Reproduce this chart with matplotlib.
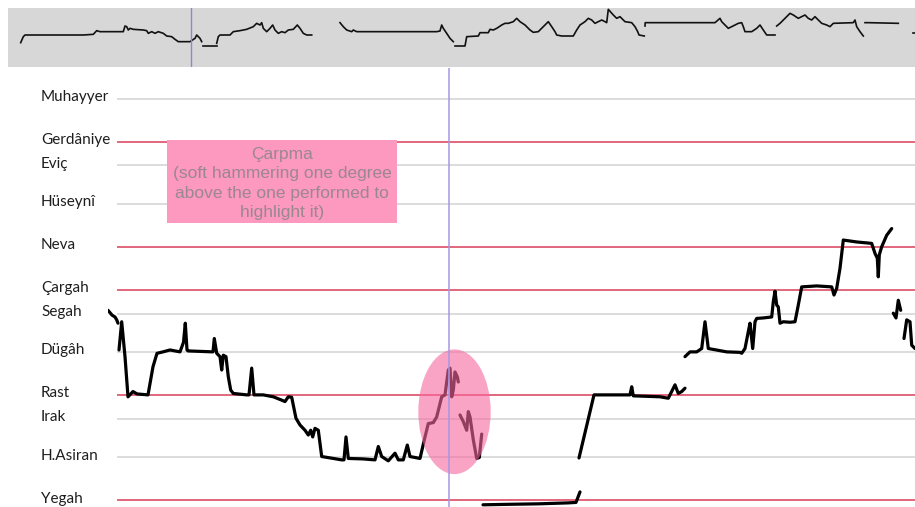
import matplotlib
matplotlib.use("Agg")
import matplotlib.pyplot as plt
from matplotlib.patches import Ellipse, Rectangle
from matplotlib.transforms import blended_transform_factory

# Makam degrees (Holdrian commas above Yegah)
degree_names = ["Yegah", "H.Asiran", "Irak", "Rast", "Dügâh", "Segah",
                "Çargah", "Neva", "Hüseynî", "Eviç", "Gerdâniye", "Muhayyer"]
degree_commas = [0, 9, 17, 22, 31, 39, 44, 53, 62, 70, 75, 84]
main_degrees = ["Yegah", "Rast", "Çargah", "Neva", "Gerdâniye"]

# Detailed pitch contour (time in s, pitch in commas), one array pair per voiced stretch
seg1_t = [0.00, 0.04, 0.07, 0.087, 0.10]
seg1_p = [39.7, 38.7, 38.3, 37.7, 37.0]

seg2_t = [0.11, 0.137, 0.17, 0.20, 0.25, 0.29, 0.40, 0.45, 0.49, 0.55, 0.62, 0.72,
          0.755, 0.773, 0.79, 0.80, 1.05, 1.063, 1.087, 1.12, 1.137, 1.153, 1.18,
          1.203, 1.227, 1.253, 1.387, 1.41, 1.437, 1.46, 1.553, 1.653, 1.737, 1.77,
          1.803, 1.837, 1.87, 1.88, 1.92, 1.97, 2.003, 2.027, 2.047, 2.07, 2.103,
          2.137, 2.253, 2.337, 2.36, 2.38, 2.403, 2.553, 2.67, 2.703, 2.737, 2.803,
          2.87, 2.903, 2.953, 2.993, 3.02, 3.12, 3.17, 3.203, 3.253, 3.287, 3.337,
          3.37, 3.403, 3.42, 3.437, 3.453, 3.47, 3.493, 3.503]
seg2_p = [31.4, 37.3, 30.0, 21.6, 22.7, 22.2, 22.0, 27.9, 30.7, 31.0, 31.4, 31.0,
          33.0, 37.0, 31.4, 31.2, 31.0, 33.8, 30.7, 30.0, 27.2, 30.3, 30.0,
          25.8, 23.0, 22.3, 22.0, 22.0, 27.6, 22.0, 22.0, 21.6, 20.9, 20.6,
          21.6, 21.5, 18.1, 17.1, 15.7, 14.6, 13.6, 14.6, 13.2, 15.0, 14.6,
          9.1, 8.7, 8.4, 8.4, 13.2, 8.7, 8.6, 8.4, 11.2, 9.1, 8.2,
          9.8, 8.4, 8.4, 11.5, 9.1, 8.7, 13.2, 16.0, 16.2, 17.4, 21.6,
          22.0, 27.2, 27.6, 21.6, 23.0, 26.8, 25.8, 24.7]

seg3_t = [3.52, 3.553, 3.587, 3.603, 3.62, 3.653, 3.687, 3.713, 3.737]
seg3_p = [17.8, 16.4, 14.6, 18.5, 17.4, 12.6, 8.7, 8.9, 13.8]

seg4_t = [3.75, 4.0, 4.3, 4.6, 4.68, 4.72]
seg4_p = [-1.0, -0.9, -0.8, -0.6, -0.5, 1.7]

seg5_t = [4.71, 4.86, 4.92, 5.22, 5.237, 5.253, 5.52, 5.603, 5.67, 5.703, 5.737, 5.77]
seg5_p = [8.8, 22.0, 22.0, 22.0, 23.7, 21.8, 21.6, 21.3, 24.1, 22.3, 22.7, 23.4]

seg6_t = [5.77, 5.82, 5.887, 5.937, 5.97, 6.003, 6.187, 6.32, 6.337, 6.37, 6.413, 6.42,
          6.447, 6.47, 6.487, 6.553, 6.637, 6.653, 6.67, 6.687, 6.703, 6.72, 6.753,
          6.82, 6.87, 6.903, 6.937, 7.087, 7.237, 7.26, 7.287, 7.32, 7.353, 7.487,
          7.637, 7.67, 7.693, 7.703, 7.713, 7.737, 7.787, 7.837]
seg6_p = [30.0, 31.0, 31.0, 31.7, 37.3, 31.7, 31.0, 30.9, 30.7, 31.7, 36.3, 37.0,
          31.7, 37.3, 38.0, 38.1, 38.3, 41.5, 43.7, 40.8, 40.4, 37.0, 37.3,
          37.2, 37.3, 40.8, 44.6, 44.8, 44.6, 42.9, 44.3, 48.5, 54.4, 54.0,
          53.7, 51.6, 50.6, 46.7, 51.3, 53.0, 55.4, 56.8]

seg7_t = [7.853, 7.88, 7.903, 7.927]
seg7_p = [39.1, 38.1, 41.8, 39.7]

seg8_t = [7.96, 7.987, 8.02, 8.037, 8.07]
seg8_p = [33.8, 37.7, 37.3, 32.4, 31.7]

contour = [(seg1_t, seg1_p), (seg2_t, seg2_p), (seg3_t, seg3_p), (seg4_t, seg4_p),
           (seg5_t, seg5_p), (seg6_t, seg6_p), (seg7_t, seg7_p), (seg8_t, seg8_p)]

# Whole-recording overview contour
ov_a_t = [1.27, 1.53, 1.7, 7.53, 8.53, 8.87, 9.2, 11.53, 11.7, 11.87, 12.03, 12.2, 12.53,
          13.53, 13.87, 14.03, 14.37, 14.7, 15.03, 15.53, 15.87, 16.37, 16.7, 17.03,
          18.2, 18.7, 18.87, 19.2, 19.37]
ov_a_p = [36.5, 45.5, 48.0, 48.0, 49.0, 54.5, 53.0, 53.0, 61.5, 60.5, 55.5, 58.0, 56.5,
          55.5, 54.5, 50.5, 53.0, 50.5, 53.0, 50.5, 46.5, 45.5, 41.5, 38.0,
          38.0, 43.0, 48.0, 43.0, 38.0]
ov_b_t = [19.47, 20.87]
ov_b_p = [31.5, 31.5]
ov_c_t = [20.87, 21.03, 21.2, 22.2, 22.53, 23.2, 23.87, 24.53, 24.87, 25.2, 25.37, 25.53,
          25.87, 26.2, 26.47, 26.7, 27.03, 27.37, 27.7, 28.03, 28.53, 28.93, 29.2,
          29.53, 29.87, 30.37]
ov_c_p = [35.5, 45.5, 48.0, 48.0, 53.0, 54.5, 56.5, 60.5, 65.5, 63.0, 66.5, 58.0,
          53.0, 58.0, 63.0, 55.5, 50.5, 53.0, 51.5, 55.5, 56.5, 63.0, 58.0,
          50.5, 48.0, 48.0]
ov_d_t = [33.2, 33.53, 33.87, 34.37, 34.53, 34.87, 39.2, 42.87, 43.2, 43.37, 43.53,
          43.87, 44.2, 44.53]
ov_d_p = [66.5, 60.5, 55.5, 53.0, 55.5, 53.0, 53.0, 53.0, 54.0, 63.0, 58.0,
          50.5, 43.0, 38.0]
ov_e_t = [44.7, 45.7, 45.87, 47.03, 47.2, 48.03, 48.2, 48.53, 48.87, 49.37, 49.7, 50.03,
          50.53, 50.87, 51.2, 51.7, 52.2, 52.53, 53.03, 53.53, 54.03, 54.37, 54.7,
          54.87, 55.37, 56.53, 56.87, 57.2, 57.7, 58.03, 58.37, 58.7, 59.03, 59.37,
          59.7, 59.87, 60.03, 60.53, 60.87, 61.2, 61.53, 61.7, 62.37, 62.7, 62.97,
          63.1, 63.63]
ov_e_p = [31.5, 31.5, 45.5, 46.5, 51.5, 51.5, 56.5, 55.5, 58.0, 63.0, 65.5, 65.5,
          68.0, 73.0, 68.0, 63.0, 55.5, 52.0, 53.0, 60.5, 68.0, 60.5, 53.0,
          48.0, 46.5, 46.5, 55.5, 63.0, 68.0, 73.0, 70.5, 65.5, 68.0, 70.5,
          68.0, 66.5, 86.5, 78.0, 73.0, 75.5, 70.5, 68.0, 66.5, 60.5, 53.0,
          48.0, 46.5]
ov_f_t = [63.7, 63.72, 70.7, 71.2, 71.37, 71.7, 72.03, 72.37, 72.7, 73.03, 73.37, 73.53,
          73.7, 74.37, 74.87, 75.2, 75.53, 75.87, 76.7]
ov_f_p = [61.5, 66.5, 66.5, 73.0, 68.0, 63.0, 58.0, 60.5, 63.0, 65.5, 66.5, 60.5,
          53.0, 53.0, 58.0, 63.0, 55.5, 48.0, 48.0]
ov_g_t = [76.87, 77.2, 77.7, 78.2, 78.53, 79.03, 79.7, 80.03, 80.37, 80.7, 81.03, 81.37,
          81.87, 82.2, 82.53, 84.53, 84.7, 84.87, 85.2, 85.53]
ov_g_p = [61.5, 65.5, 73.0, 80.5, 78.0, 73.0, 78.0, 73.0, 70.5, 75.5, 70.5, 65.5,
          63.0, 60.5, 65.5, 66.5, 70.5, 60.5, 53.0, 46.5]
ov_h_t = [85.7, 86.03, 89.03]
ov_h_p = [66.5, 66.5, 65.5]
ov_i_t = [90.53, 90.7]
ov_i_p = [50.5, 50.5]

overview = [(ov_a_t, ov_a_p), (ov_b_t, ov_b_p), (ov_c_t, ov_c_p), (ov_d_t, ov_d_p),
            (ov_e_t, ov_e_p), (ov_f_t, ov_f_p), (ov_g_t, ov_g_p), (ov_h_t, ov_h_p),
            (ov_i_t, ov_i_p)]

cursor_overview = 18.3
cursor_detail = 3.41

annotation_text = "Çarpma\n(soft hammering one degree\nabove the one performed to\nhighlight it)"

# ---------------------------------------------------------------- figure
W, H = 915, 507
fig = plt.figure(figsize=(W / 100, H / 100), dpi=100)
fig.patch.set_facecolor("white")

# Overview strip
ov = fig.add_axes([8 / W, 1 - 67 / H, 907 / W, 59 / H])
ov.set_facecolor("#d7d7d7")
for s in ov.spines.values():
    s.set_visible(False)
ov.set_xticks([])
ov.set_yticks([])
ov.set_xlim(0, 90.7)
ov.set_ylim(0, 88.5)
for t, p in overview:
    ov.plot(t, p, color="#111111", lw=1.2, solid_joinstyle="round")
ov.axvline(cursor_overview, color="#8d86d6", lw=1.0)

# Detail view
ax = fig.add_axes([108 / W, 0, 807 / W, (H - 68) / H])
ax.set_xlim(0, 8.07)
ax.set_ylim(-1.46, 90.4)
ax.axis("off")

for name, c in zip(degree_names, degree_commas):
    col = "#e2667b" if name in main_degrees else "#dcdcdc"
    ax.hlines(c, 0.09, 8.07, colors=col, lw=1.4, zorder=1)

lab_tr = blended_transform_factory(fig.transFigure, ax.transData)
for name, c in zip(degree_names, degree_commas):
    ax.text(41 / W, c + 0.3, name, transform=lab_tr, ha="left", va="center",
            fontsize=11, family="Lato", color="#1e1e1e")

for t, p in contour:
    ax.plot(t, p, color="black", lw=2.3, solid_joinstyle="round",
            solid_capstyle="round", zorder=2)

ax.add_patch(Ellipse((3.465, 18.47), 0.724, 26.1, facecolor="#f7679f",
                     alpha=0.6, edgecolor="none", zorder=3))
ax.axvline(cursor_detail, ymin=0, ymax=1, color="#a597e4", lw=1.1, zorder=4)

ax.add_patch(Rectangle((0.587, 57.9), 2.306, 17.4, facecolor="#fd98bf",
                       edgecolor="none", zorder=5))
ax.text(1.74, 66.2, annotation_text, ha="center", va="center", fontsize=12.5,
        family="Liberation Sans", color="#9a8790", linespacing=1.36, zorder=6)

fig.savefig("out.png", dpi=100)
